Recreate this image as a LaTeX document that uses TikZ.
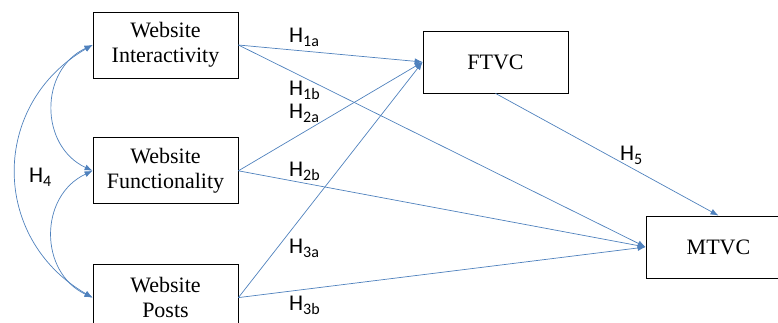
\documentclass[tikz,border=0pt]{standalone}
\usepackage{fontspec}
\setmainfont{Liberation Serif}
\newfontfamily\hypfont{Carlito}
\usetikzlibrary{positioning,arrows.meta}
\definecolor{pathblue}{RGB}{79,129,189}
\newcommand{\hyp}[2]{H\raisebox{-4.5pt}{\fontsize{16}{16}\selectfont #2}}
\tikzset{
    construct/.style={
        rectangle,
        draw=black,
        line width=0.8pt,
        align=center,
        minimum width=145pt,
        minimum height=66pt,
        inner sep=0pt,
        font=\fontsize{22}{25}\selectfont,
    },
    outcome/.style={
        construct,
        minimum height=62pt,
    },
    path arrow/.style={
        draw=pathblue,
        line width=0.7pt,
        -{Latex[length=8pt,width=6pt]},
    },
    corr arrow/.style={
        path arrow,
        {Latex[length=8pt,width=6pt]}-{Latex[length=8pt,width=6pt]},
    },
    hlabel/.style={
        anchor=base west,
        inner sep=0pt,
        font=\hypfont\fontsize{22.5}{22.5}\selectfont,
    },
}
\begin{document}
\begin{tikzpicture}[x=1pt,y=-1pt]
    \useasboundingbox (0,0) rectangle (778,322);
    \clip (0,0) rectangle (778,322);
    % predictors
    \node[construct](inter) at (165.5,45) {Website\\Interactivity};
    \node[construct,below=59pt of inter](func) {Website\\Functionality};
    \node[construct,below=60pt of func](posts) {Website\\Posts};
    % outcomes
    \node[outcome](ftvc) at (495.5,62) {FTVC};
    \node[outcome](mtvc) at (718.5,247) {MTVC};
    % paths
    \draw[path arrow] (inter.east) -- (ftvc.west);
    \draw[path arrow] (inter.east) -- (mtvc.west);
    \draw[path arrow] (func.east) -- (ftvc.west);
    \draw[path arrow] (func.east) -- (mtvc.west);
    \draw[path arrow] (posts.east) -- (ftvc.west);
    \draw[path arrow] (posts.east) -- (mtvc.west);
    \draw[path arrow] (ftvc.south) -- (mtvc.north);
    % correlations
    \draw[corr arrow] (inter.west) to[out=205,in=155,looseness=1.2] (func.west);
    \draw[corr arrow] (func.west) to[out=205,in=155,looseness=1.2] (posts.west);
    \draw[corr arrow] (inter.west) to[out=210,in=150,looseness=1.2] (posts.west);
    % labels
    \node[hlabel](h1a) at (289,42) {\hyp{H}{1a}};
    \node[hlabel](h1b) at (289,95) {\hyp{H}{1b}};
    \node[hlabel](h2a) at (289,118) {\hyp{H}{2a}};
    \node[hlabel](h2b) at (289,176) {\hyp{H}{2b}};
    \node[hlabel](h3a) at (289,253) {\hyp{H}{3a}};
    \node[hlabel](h3b) at (289,310) {\hyp{H}{3b}};
    \node[hlabel](h4) at (29,182) {\hyp{H}{4}};
    \node[hlabel](h5) at (620,160) {\hyp{H}{5}};
\end{tikzpicture}
\end{document}
